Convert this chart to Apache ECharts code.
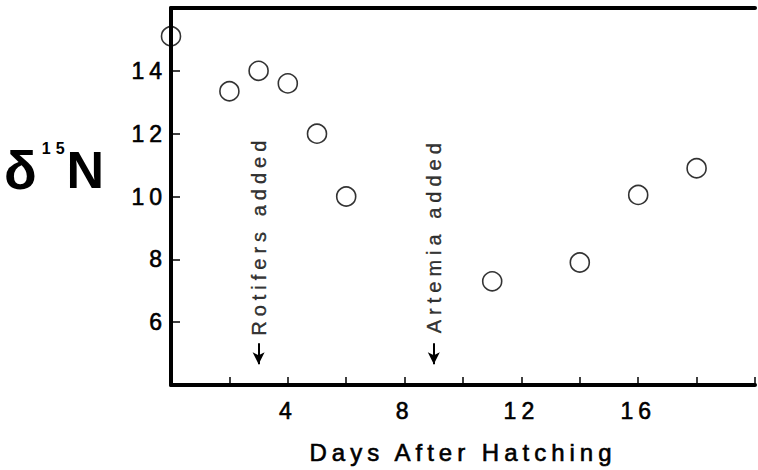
<!DOCTYPE html>
<html>
<head>
<meta charset="utf-8">
<script src="https://cdn.jsdelivr.net/npm/echarts@6/dist/echarts.min.js"></script>
<style>
html, body { margin: 0; padding: 0; background: #fff; }
#chart { width: 758px; height: 470px; }
/* the original lettering is widely tracked */
#chart text { letter-spacing: 5px; }
</style>
</head>
<body>
<div id="chart"></div>
<script>
var days = [0, 2, 3, 4, 5, 6, 11, 14, 16, 18];
var d15N = [15.1, 13.35, 14.0, 13.6, 12.0, 10.0, 7.3, 7.9, 10.05, 10.9];

var noteDays = [3, 9];
var noteText = ['Rotifers added', 'Artemia added'];
var noteMid = [8.75, 8.75];
var arrowFrom = 5.33;
var arrowTo = 4.66;

var xLabels = [4, 8, 12, 16];
var yLabels = [6, 8, 10, 12, 14];

var font = 'Liberation Sans';
// slight outline so the type looks as heavy as the scanned original
var ink = { color: '#000', textBorderColor: '#000', textBorderWidth: 0.6 };

var points = days.map(function (d, i) { return [d, d15N[i]]; });
var notes = noteDays.map(function (d, i) {
    return { name: noteText[i], value: [d, noteMid[i]] };
});
var arrows = noteDays.map(function (d) {
    return [{ coord: [d, arrowFrom] }, { coord: [d, arrowTo] }];
});

var option = {
    animation: false,
    backgroundColor: '#fff',
    title: {
        text: '{d|δ}{s|15}{n|N}',
        left: 4,
        top: 140,
        padding: 0,
        textStyle: {
            rich: {
                d: { fontSize: 54, fontWeight: 'bold', fontFamily: font, color: '#000', lineHeight: 60 },
                s: { fontSize: 16, fontFamily: font, color: '#000', lineHeight: 18, verticalAlign: 'top', padding: [0, 7, 0, 5] },
                n: { fontSize: 52, fontWeight: 'bold', fontFamily: font, color: '#000', lineHeight: 60 }
            }
        }
    },
    grid: { left: 171, right: -3, top: 8, bottom: 85 },
    xAxis: [
        {
            type: 'value',
            min: 0,
            max: 20,
            interval: 2,
            name: 'Days After Hatching',
            nameLocation: 'middle',
            nameGap: 55,
            nameTextStyle: Object.assign({ fontSize: 24, fontFamily: font }, ink),
            axisLine: { lineStyle: { color: '#000', width: 4 } },
            axisTick: { inside: true, length: 8, lineStyle: { color: '#000', width: 1.5 } },
            axisLabel: Object.assign({
                fontSize: 23,
                fontFamily: font,
                margin: 14,
                formatter: function (v) { return xLabels.indexOf(v) >= 0 ? String(v) : ''; }
            }, ink),
            splitLine: { show: false }
        },
        {
            type: 'value',
            position: 'top',
            min: 0,
            max: 20,
            axisLine: { lineStyle: { color: '#000', width: 4 } },
            axisTick: { show: false },
            axisLabel: { show: false },
            splitLine: { show: false }
        }
    ],
    yAxis: {
        type: 'value',
        min: 4,
        max: 16,
        interval: 2,
        axisLine: { show: true, lineStyle: { color: '#000', width: 4 } },
        axisTick: { show: true, inside: true, length: 9, lineStyle: { color: '#000', width: 1.5 } },
        axisLabel: Object.assign({
            fontSize: 23,
            fontFamily: font,
            margin: 4,
            formatter: function (v) { return yLabels.indexOf(v) >= 0 ? String(v) : ''; }
        }, ink),
        splitLine: { show: false }
    },
    series: [
        {
            name: 'd15N',
            type: 'scatter',
            symbol: 'circle',
            symbolSize: 19,
            clip: false,
            itemStyle: { color: 'rgba(0,0,0,0)', borderColor: '#000', borderWidth: 1.6 },
            data: points,
            z: 5
        },
        {
            name: 'notes',
            type: 'scatter',
            symbolSize: 1,
            itemStyle: { color: 'rgba(0,0,0,0)' },
            label: {
                show: true,
                position: 'inside',
                rotate: 90,
                fontSize: 20,
                fontFamily: font,
                color: '#000',
                textBorderColor: '#000',
                textBorderWidth: 0.4,
                formatter: function (p) { return p.name; }
            },
            data: notes,
            markLine: {
                silent: true,
                symbol: ['none', 'arrow'],
                symbolSize: [9, 12],
                label: { show: false },
                lineStyle: { color: '#000', width: 2, type: 'solid' },
                data: arrows
            }
        }
    ]
};

echarts.init(document.getElementById('chart'), null, { renderer: 'svg' }).setOption(option);
</script>
</body>
</html>
